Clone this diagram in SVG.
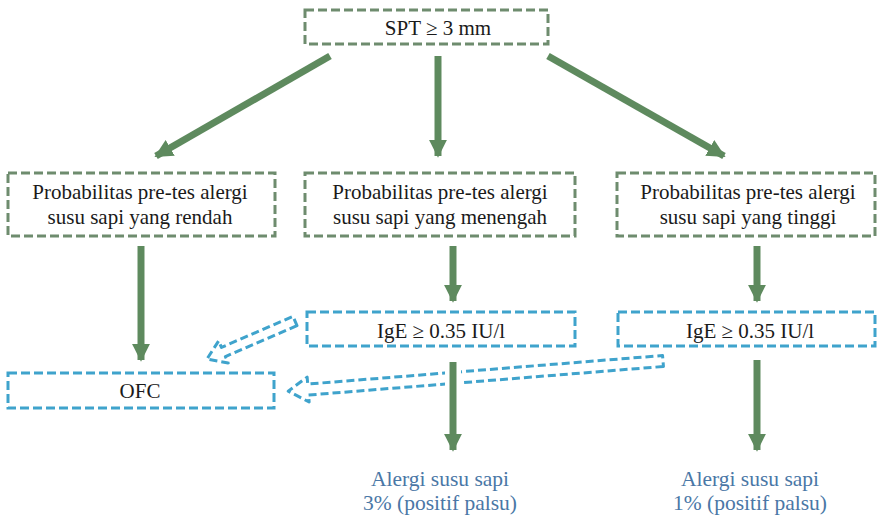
<svg xmlns="http://www.w3.org/2000/svg" width="877" height="518" viewBox="0 0 877 518">
<style>
  .gbox { fill: #fff; stroke: #6e8c6e; stroke-width: 3; stroke-dasharray: 9 4; }
  .bbox { fill: #fff; stroke: #3fa3cc; stroke-width: 3; stroke-dasharray: 9 4; }
  .barrow { fill: #fff; stroke: #3fa3cc; stroke-width: 3; stroke-dasharray: 8 4; stroke-linejoin: round; }
  .garrow { stroke: #5e8a5e; stroke-width: 7; fill: none; }
  .gap { stroke: #fff; stroke-width: 16; fill: none; }
  text { font-family: 'Liberation Serif', 'DejaVu Serif', serif; }
  .t { font-size: 21px; fill: #1a1a1a; text-anchor: middle; }
  .res { font-size: 21.5px; fill: #4a77a6; text-anchor: middle; }
</style>
<defs>
  <marker id="ah" viewBox="0 0 10 10" refX="9" refY="5" markerWidth="2.6" markerHeight="2.6" orient="auto" markerUnits="strokeWidth">
    <path d="M0,0 L10,5 L0,10 Z" fill="#5e8a5e"/>
  </marker>
</defs>
<rect width="877" height="518" fill="#fff"/>

<g id="connectors">
  <line class="garrow" x1="330" y1="56" x2="156" y2="156" marker-end="url(#ah)"/>
  <line class="garrow" x1="438" y1="56" x2="438" y2="156" marker-end="url(#ah)"/>
  <line class="garrow" x1="548" y1="56" x2="724" y2="156" marker-end="url(#ah)"/>
  <line class="garrow" x1="141" y1="246" x2="141" y2="360" marker-end="url(#ah)"/>
  <line class="garrow" x1="453" y1="246" x2="453" y2="301" marker-end="url(#ah)"/>
  <line class="garrow" x1="757" y1="246" x2="757" y2="301" marker-end="url(#ah)"/>
  <polygon class="barrow" transform="translate(295,321) rotate(156.6)" points="0,-5 78,-5 78,-12 96,0 78,12 78,5 0,5"/>
  <polygon class="barrow" transform="translate(663,361) rotate(175.4)" points="0,-5.5 356,-5.5 356,-12.5 376,0 356,12.5 356,5.5 0,5.5"/>
  <line class="gap" x1="453" y1="354" x2="453" y2="420"/>
  <line class="garrow" x1="453" y1="362" x2="453" y2="450" marker-end="url(#ah)"/>
  <line class="garrow" x1="757" y1="360" x2="757" y2="450" marker-end="url(#ah)"/>
</g>

<g id="spt">
  <rect class="gbox" x="305" y="10" width="243" height="34"/>
  <text class="t" x="438" y="35">SPT ≥ 3 mm</text>
</g>
<g id="rendah">
  <rect class="gbox" x="8" y="173" width="267" height="63"/>
  <text class="t" x="140" y="199">Probabilitas pre-tes alergi</text>
  <text class="t" x="140" y="224">susu sapi yang rendah</text>
</g>
<g id="menengah">
  <rect class="gbox" x="305" y="173" width="270" height="63"/>
  <text class="t" x="440" y="199">Probabilitas pre-tes alergi</text>
  <text class="t" x="440" y="224">susu sapi yang menengah</text>
</g>
<g id="tinggi">
  <rect class="gbox" x="617" y="173" width="258" height="63"/>
  <text class="t" x="748" y="199">Probabilitas pre-tes alergi</text>
  <text class="t" x="748" y="224">susu sapi yang tinggi</text>
</g>
<g id="ige-mid">
  <rect class="bbox" x="307" y="312" width="268" height="34"/>
  <text class="t" x="441" y="338">IgE ≥ 0.35 IU/l</text>
</g>
<g id="ige-right">
  <rect class="bbox" x="618" y="312" width="257" height="34"/>
  <text class="t" x="750" y="338">IgE ≥ 0.35 IU/l</text>
</g>
<g id="ofc">
  <rect class="bbox" x="8" y="373" width="266" height="35"/>
  <text class="t" x="140" y="398">OFC</text>
</g>
<g id="res-mid">
  <text class="res" x="440" y="486">Alergi susu sapi</text>
  <text class="res" x="440" y="510">3% (positif palsu)</text>
</g>
<g id="res-right">
  <text class="res" x="750" y="486">Alergi susu sapi</text>
  <text class="res" x="750" y="510">1% (positif palsu)</text>
</g>
</svg>
